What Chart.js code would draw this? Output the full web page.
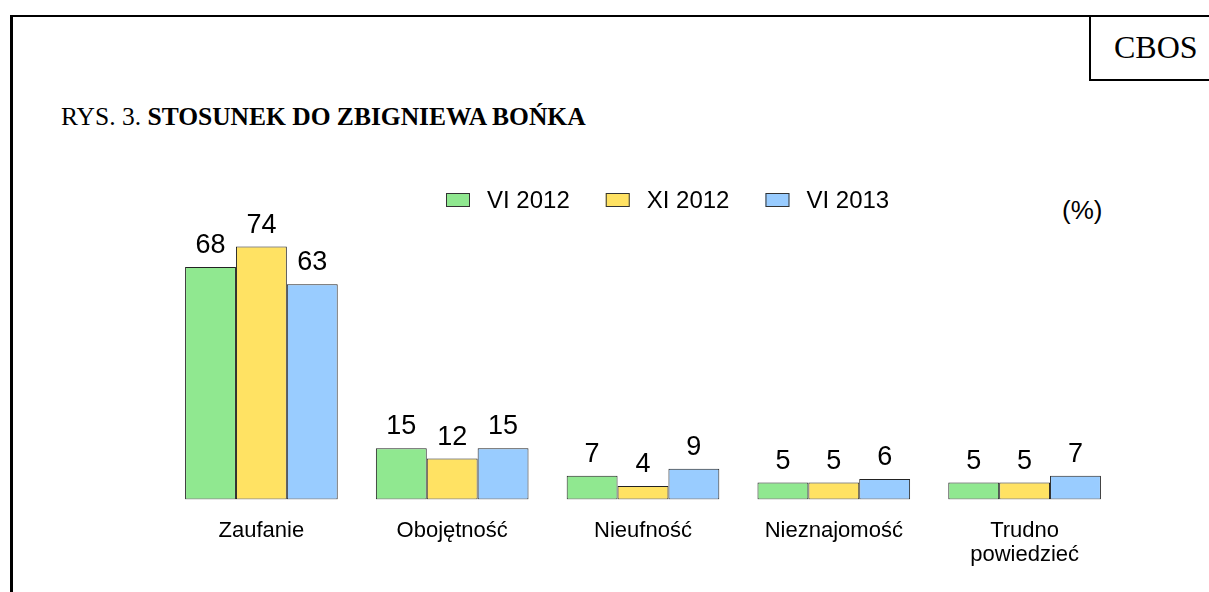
<!DOCTYPE html>
<html lang="pl">
<head>
<meta charset="utf-8">
<title>Stosunek do Zbigniewa Bońka</title>
<script src="https://cdn.jsdelivr.net/npm/chart.js@4/dist/chart.umd.min.js"></script>
<style>
  html, body { margin: 0; padding: 0; background: #fff; }
  #page { position: relative; width: 1209px; height: 592px; overflow: hidden; }
  #frame { position: absolute; left: 10px; top: 15px; width: 1300px; height: 700px;
           border-left: 3px solid #000; border-top: 2px solid #000; }
  #cbosBox { position: absolute; left: 1089px; top: 15px; width: 200px; height: 64px;
             border-left: 2px solid #000; border-bottom: 2px solid #000; }
  #cbos { position: absolute; left: 1114px; top: 31px; font: 32px/1 "Liberation Serif", "Times New Roman", serif; }
  #title { position: absolute; left: 61px; top: 104px; font: 25.5px/1 "Liberation Serif", "Times New Roman", serif; white-space: nowrap; }
  #unit { position: absolute; left: 1062px; top: 197px; font: 26px/1 "Liberation Sans", Arial, sans-serif; }
  #wrap { position: absolute; left: 0; top: 0; width: 1209px; height: 592px; }
</style>
</head>
<body>
<div id="page">
  <div id="frame"></div>
  <div id="cbosBox"></div>
  <div id="cbos">CBOS</div>
  <div id="title">RYS. 3. <b>STOSUNEK DO ZBIGNIEWA BOŃKA</b></div>
  <div id="unit">(%)</div>
  <div id="wrap"><canvas id="myChart"></canvas></div>
</div>
<script>
'use strict';

const categories = ['Zaufanie', 'Obojętność', 'Nieufność', 'Nieznajomość', ['Trudno', 'powiedzieć']];
const seriesLabels = ['VI 2012', 'XI 2012', 'VI 2013'];
const vi2012 = [68, 15, 7, 5, 5];
const xi2012 = [74, 12, 4, 5, 5];
const vi2013 = [63, 15, 9, 6, 7];

const colors = ['#90e890', '#ffe263', '#99ccff'];
const sans = '"Liberation Sans", Arial, sans-serif';

// value above every bar
const valueLabels = {
  id: 'valueLabels',
  afterDatasetsDraw(chart) {
    const ctx = chart.ctx;
    ctx.save();
    ctx.font = '27px ' + sans;
    ctx.fillStyle = '#000';
    ctx.textAlign = 'center';
    ctx.textBaseline = 'alphabetic';
    chart.data.datasets.forEach((ds, i) => {
      chart.getDatasetMeta(i).data.forEach((bar, j) => {
        ctx.fillText(ds.data[j], bar.x, bar.y - 14);
      });
    });
    ctx.restore();
  }
};

// legend in one row, placed like in the original
const rowLegend = {
  id: 'rowLegend',
  afterDraw(chart) {
    const ctx = chart.ctx;
    ctx.save();
    ctx.font = '24px ' + sans;
    ctx.textBaseline = 'alphabetic';
    let x = 446;
    chart.data.datasets.forEach(ds => {
      ctx.fillStyle = ds.backgroundColor;
      ctx.fillRect(x, 193, 24, 14);
      ctx.strokeStyle = '#333';
      ctx.lineWidth = 1;
      ctx.strokeRect(x + 0.5, 193.5, 23, 13);
      ctx.fillStyle = '#000';
      ctx.fillText(ds.label, x + 41, 208);
      x += 41 + ctx.measureText(ds.label).width + 36;
    });
    ctx.restore();
  }
};

const data = {
  labels: categories,
  datasets: [vi2012, xi2012, vi2013].map((values, i) => ({
    label: seriesLabels[i],
    data: values,
    backgroundColor: colors[i],
    borderColor: '#222',
    borderWidth: 1,
    borderSkipped: false,
    categoryPercentage: 0.8,
    barPercentage: 1.0
  }))
};

const config = {
  type: 'bar',
  data: data,
  options: {
    responsive: true,
    maintainAspectRatio: false,
    animation: false,
    layout: { padding: { left: 166, right: 89, top: 226, bottom: 14 } },
    plugins: {
      legend: { display: false },
      tooltip: { enabled: false }
    },
    scales: {
      x: {
        grid: { display: false },
        border: { display: false },
        ticks: {
          color: '#000',
          padding: 11,
          maxRotation: 0,
          font: { family: sans, size: 22, lineHeight: 1.1 }
        }
      },
      y: {
        display: false,
        min: 0,
        max: 80
      }
    }
  },
  plugins: [valueLabels, rowLegend]
};

const myChart = new Chart(document.getElementById('myChart'), config);
</script>
</body>
</html>
